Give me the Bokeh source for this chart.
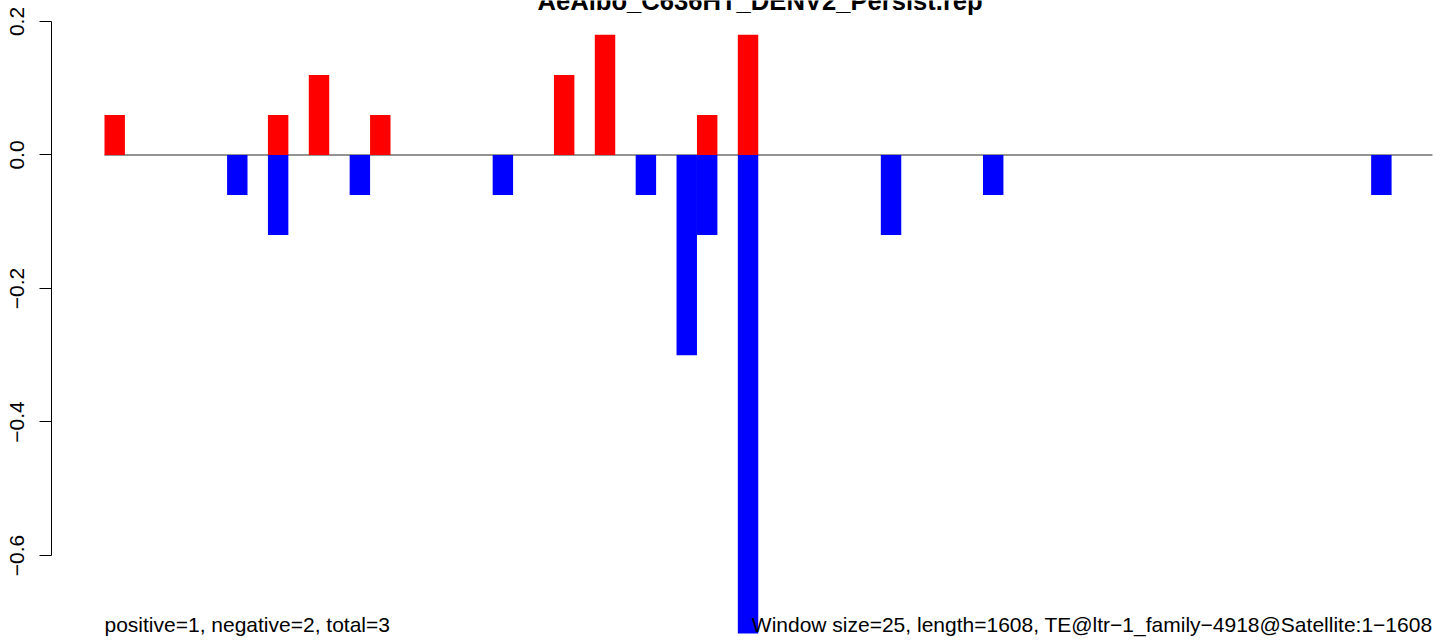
from bokeh.plotting import figure
from bokeh.models import Range1d, LinearAxis, FixedTicker, CustomJSTickFormatter
from bokeh.core.properties import value
from bokeh.embed import file_html
from bokeh.resources import INLINE

# ---- data (window index, value) ----
n_windows = 65
pos_windows = [0, 8, 10, 13, 22, 24, 29, 31]
pos_values = [0.06, 0.06, 0.12, 0.06, 0.12, 0.18, 0.06, 0.18]
neg_windows = [6, 8, 12, 19, 26, 28, 29, 31, 38, 43, 62]
neg_values = [-0.06, -0.12, -0.06, -0.06, -0.06, -0.30, -0.12, -0.717, -0.12, -0.06, -0.06]
y_ticks = [-0.6, -0.4, -0.2, 0.0, 0.2]
title_text = "AeAlbo_C636HT_DENV2_Persist.rep"
left_note = "positive=1, negative=2, total=3"
right_note = "Window size=25, length=1608, TE@ltr\u22121_family\u22124918@Satellite:1\u22121608"

FONT = value("Liberation Sans")

p = figure(width=1444, height=641, output_backend="svg", toolbar_location=None,
           x_range=Range1d(-2.594, 65.59), y_range=Range1d(-0.72884, 0.23146),
           x_axis_type=None, y_axis_type=None, title=None,
           min_border_left=51, min_border_right=0, min_border_top=0, min_border_bottom=0)
p.outline_line_color = None
p.background_fill_color = "white"
p.border_fill_color = "white"

yaxis = LinearAxis(bounds=(-0.6, 0.2), ticker=FixedTicker(ticks=y_ticks, minor_ticks=[]))
yaxis.formatter = CustomJSTickFormatter(code="return (tick < -1e-9 ? '\\u2212' : '') + Math.abs(tick).toFixed(1);")
yaxis.major_label_orientation = "vertical"
yaxis.major_tick_out = 12
yaxis.major_tick_in = 0
yaxis.minor_tick_out = 0
yaxis.minor_tick_in = 0
yaxis.major_label_standoff = 15
yaxis.major_label_text_font = "Liberation Sans"
yaxis.major_label_text_font_size = "21px"
yaxis.major_label_text_color = "black"
yaxis.axis_line_color = "black"
yaxis.major_tick_line_color = "black"
p.add_layout(yaxis, "left")

# zero line
p.line(x=[0, n_windows], y=[0, 0], line_color="#707070", line_width=1.3)

# bars
p.vbar(x=[w + 0.5 for w in pos_windows], top=pos_values, bottom=0, width=1,
       fill_color="#ff0000", line_color=None)
p.vbar(x=[w + 0.5 for w in neg_windows], top=0, bottom=neg_values, width=1,
       fill_color="#0000ff", line_color=None)

# title (partly cut off at the top, as in the original)
p.text(x=[n_windows / 2 - 0.41], y=[0.2307], text=[title_text], text_font=FONT,
       text_font_size="25.6px", text_font_style="bold", text_align="center",
       text_baseline="alphabetic", text_color="black")

# bottom notes
p.text(x=[0], y=[-0.7034], text=[left_note], text_font=FONT, text_font_size="21px",
       text_align="left", text_baseline="alphabetic", text_color="black")
p.text(x=[n_windows], y=[-0.7034], text=[right_note], text_font=FONT, text_font_size="21px",
       text_align="right", text_baseline="alphabetic", text_color="black")

open("out.html", "w").write(file_html(p, INLINE))
